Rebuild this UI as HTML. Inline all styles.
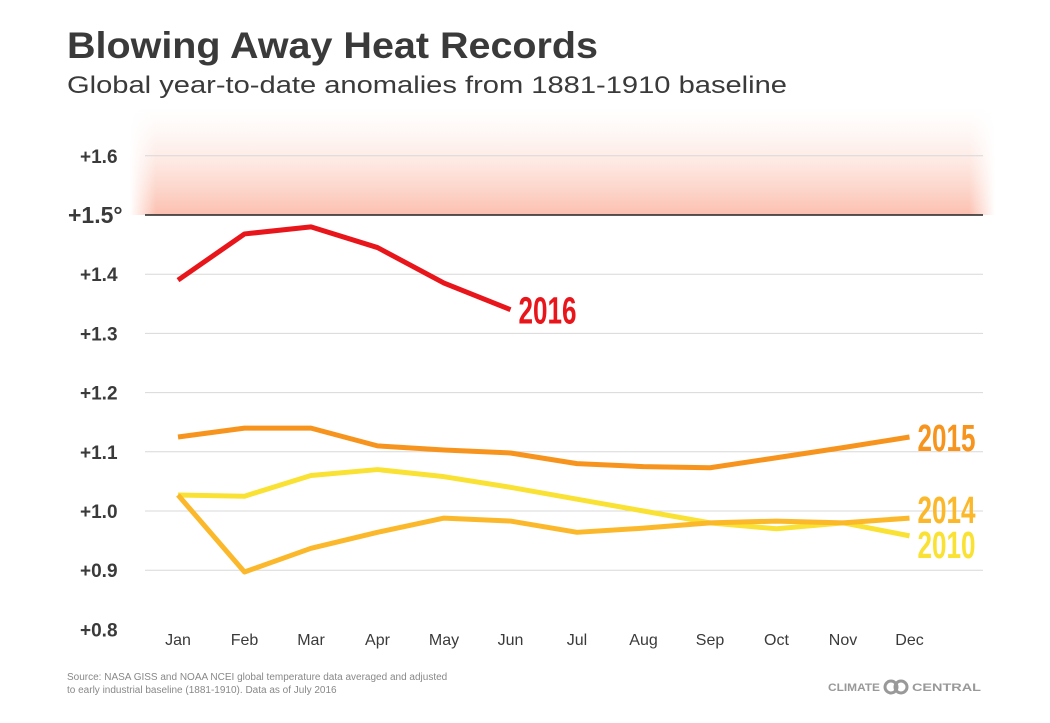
<!DOCTYPE html>
<html><head><meta charset="utf-8"><style>
html,body{margin:0;padding:0;background:#fff;}
body{width:1050px;height:718px;overflow:hidden;font-family:"Liberation Sans",sans-serif;}
</style></head><body>
<svg id="chart" width="1050" height="718" xmlns="http://www.w3.org/2000/svg">
<defs>
<linearGradient id="bandV" x1="0" y1="0" x2="0" y2="1">
<stop offset="0" stop-color="#fde3da" stop-opacity="0"/>
<stop offset="1" stop-color="#fbb8a6" stop-opacity="0.9"/>
</linearGradient>
<linearGradient id="bandH" x1="0" y1="0" x2="1" y2="0">
<stop offset="0" stop-color="#fff" stop-opacity="1"/>
<stop offset="0.03" stop-color="#fff" stop-opacity="0"/>
<stop offset="0.97" stop-color="#fff" stop-opacity="0"/>
<stop offset="1" stop-color="#fff" stop-opacity="1"/>
</linearGradient>
</defs>
<text x="67" y="58" font-size="37" font-weight="bold" fill="#3a3a3a" textLength="531" lengthAdjust="spacingAndGlyphs">Blowing Away Heat Records</text>
<text x="67" y="93" font-size="24" fill="#3a3a3a" textLength="720" lengthAdjust="spacingAndGlyphs">Global year-to-date anomalies from 1881-1910 baseline</text>
<rect x="130" y="108" width="865" height="107" fill="url(#bandV)"/>
<rect x="130" y="108" width="865" height="107" fill="url(#bandH)"/>
<g id="grid"></g>
<g id="series"></g>
<text x="67" y="680" font-size="10" fill="#888">Source: NASA GISS and NOAA NCEI global temperature data averaged and adjusted</text>
<text x="67" y="693" font-size="10" fill="#888">to early industrial baseline (1881-1910). Data as of July 2016</text>
<text x="828" y="691" font-size="11" font-weight="bold" fill="#999" textLength="52" lengthAdjust="spacingAndGlyphs">CLIMATE</text>
<circle cx="891" cy="687" r="6" fill="none" stroke="#999" stroke-width="3"/>
<circle cx="901" cy="687" r="6" fill="none" stroke="#999" stroke-width="3"/>
<text x="912" y="691" font-size="11" font-weight="bold" fill="#999" textLength="69" lengthAdjust="spacingAndGlyphs">CENTRAL</text>
</svg>
<script>
const months=["Jan","Feb","Mar","Apr","May","Jun","Jul","Aug","Sep","Oct","Nov","Dec"];
const yTicks=[1.6,1.5,1.4,1.3,1.2,1.1,1.0,0.9,0.8];
const yTickLabels=["+1.6","+1.5°","+1.4","+1.3","+1.2","+1.1","+1.0","+0.9","+0.8"];
const v2016=[1.39,1.468,1.48,1.445,1.385,1.34];
const v2015=[1.125,1.14,1.14,1.11,1.103,1.098,1.08,1.075,1.073,1.09,1.107,1.125];
const v2014=[1.027,0.897,0.937,0.964,0.988,0.983,0.964,0.971,0.98,0.983,0.98,0.988];
const v2010=[1.027,1.025,1.06,1.07,1.058,1.04,1.02,1.0,0.98,0.97,0.98,0.958];
const seriesNames=["2010","2014","2015","2016"];
const NS="http://www.w3.org/2000/svg";
const x=i=>178+i*66.5;
const y=v=>215+(1.5-v)*592;
const grid=document.getElementById('grid');
function mk(tag,attrs,parent){const e=document.createElementNS(NS,tag);for(const k in attrs)e.setAttribute(k,attrs[k]);parent.appendChild(e);return e;}
yTicks.forEach((t,i)=>{
  if(t!==1.5&&t!==0.8){const l=mk('line',{x1:145,x2:983,y1:y(t),y2:y(t),stroke:'#d8d8d8','stroke-width':1},grid);
  
  }
  const big=t===1.5;
  const tx=mk('text',{x:big?68:80,y:y(t)+(big?8:7),'font-size':big?23:19,'font-weight':'bold',fill:'#3a3a3a'},grid);
  
  
  tx.textContent=yTickLabels[i];
});
const base=mk('line',{x1:145,x2:983,y1:y(1.5),y2:y(1.5),stroke:'#222','stroke-width':1.5},grid);


months.forEach((m,i)=>{
  const t=mk('text',{x:x(i),y:645,'font-size':16,fill:'#3a3a3a','text-anchor':'middle'},grid);
  
  
  t.textContent=m;
});
const sg=document.getElementById('series');
function line(vals,color,name,lbl,ly){
  const p=mk('polyline',{points:vals.map((v,i)=>x(i)+','+y(v)).join(' '),fill:'none',stroke:color,'stroke-width':5,'stroke-linejoin':'round','stroke-linecap':'butt'},sg);
  
  
  const last=vals.length-1;
  const t=mk('text',{x:x(last)+8,y:(ly!==undefined?ly:y(vals[last])+14),'font-size':38,'font-weight':'bold',fill:color,textLength:58,lengthAdjust:'spacingAndGlyphs'},sg);
  
  
  t.textContent=lbl;
}
line(v2010,'#f9e234','series-2010',seriesNames[0],558);
line(v2014,'#fbb82a','series-2014',seriesNames[1],523);
line(v2015,'#f7941d','series-2015',seriesNames[2]);
line(v2016,'#e8161b','series-2016',seriesNames[3]);
</script>
</body></html>
